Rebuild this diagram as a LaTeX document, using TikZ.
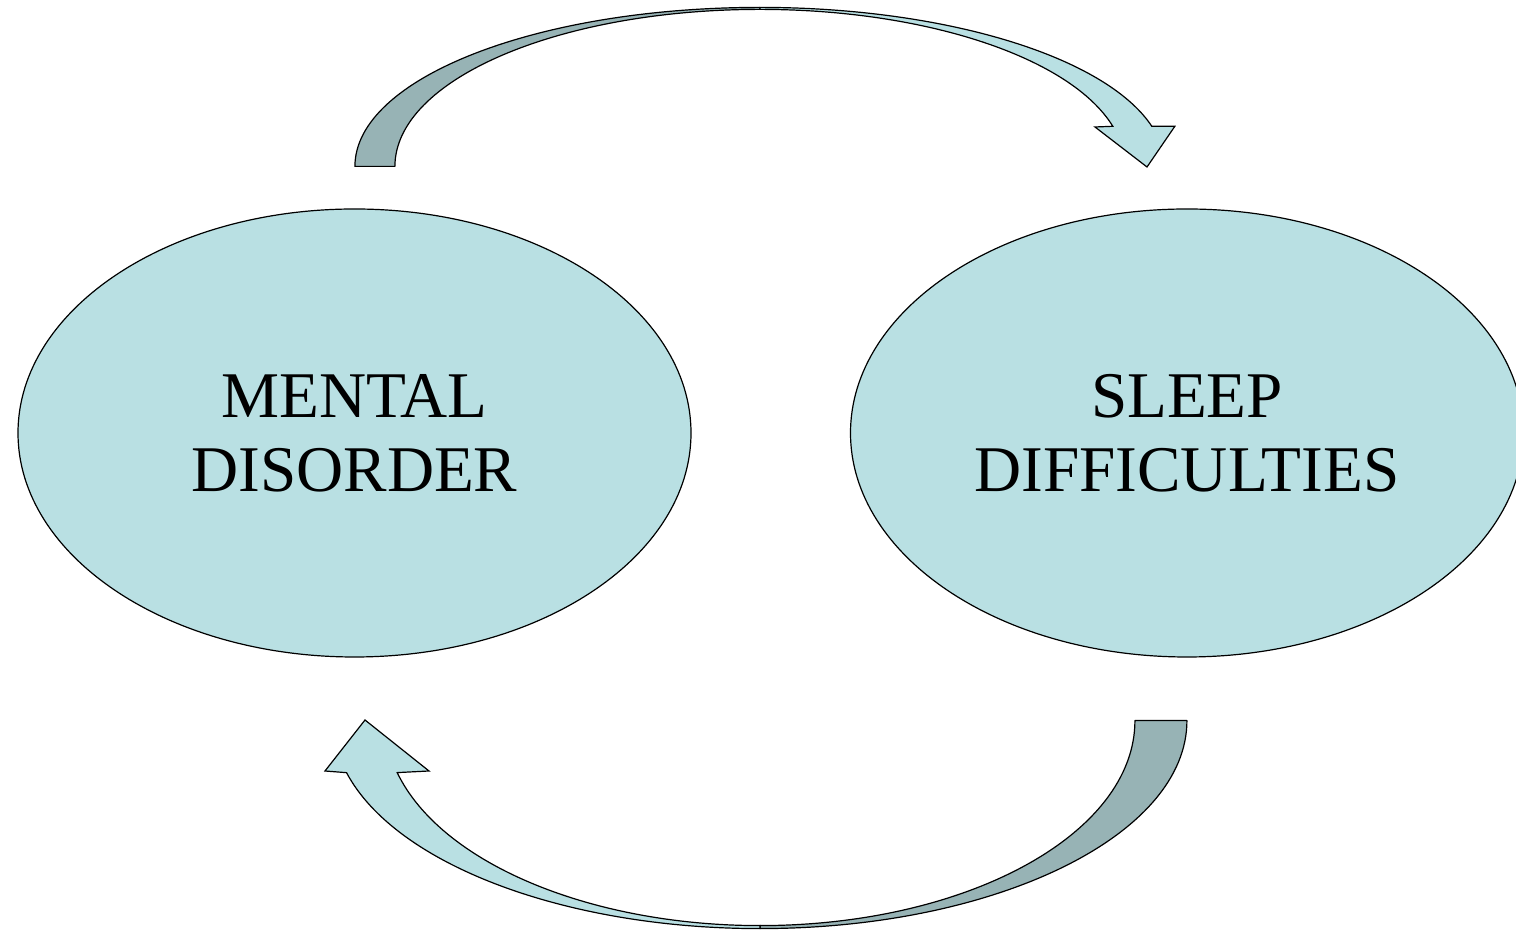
\documentclass[tikz,border=0pt]{standalone}
\usepackage{fontspec}
\setmainfont{Liberation Serif}
\usetikzlibrary{calc,shapes.geometric}
\definecolor{LoopCyan}{HTML}{B9E0E3}
\definecolor{LoopShade}{HTML}{97B3B5}

\begin{document}
\begin{tikzpicture}[
  x=0.5pt, y=0.5pt,
  stateblob/.style={ellipse, draw=black, fill=LoopCyan, line width=0.6pt, minimum width=336.5pt, minimum height=224pt, inner sep=0pt, align=center, font=\fontsize{32.6}{37}\selectfont},
  bandback/.style={draw=black, fill=LoopShade, line width=0.6pt, line join=round},
  bandfront/.style={draw=black, fill=LoopCyan, line width=0.6pt, line join=miter}
]
\useasboundingbox (0,0) rectangle (1516,931);
\node[stateblob] (mental) at (354.5,498) {MENTAL\\DISORDER};
\node[stateblob] (sleep) at (1187,498) {SLEEP\\DIFFICULTIES};
% curved block arrow on top: mental -> sleep
\coordinate (topc) at ($(mental.north)!0.487!(sleep.north)+(0,42)$);
\draw[bandback] (topc) ++(180:405 and 159) arc[start angle=180, end angle=90, x radius=405, y radius=159] -- ++(0,-2) arc[start angle=90, end angle=180, x radius=365, y radius=157] -- cycle;
\draw[bandfront] (topc) ++(90:405 and 159) arc[start angle=90, end angle=14.6, x radius=405, y radius=159] -- ++(23,0) coordinate (tophr) -- (1147,764) coordinate (toptip) -- (1095,804) coordinate (tophl) -- ($(topc)+(14.8:365 and 157)$) arc[start angle=14.8, end angle=90, x radius=365, y radius=157] -- cycle;
% curved block arrow below: sleep -> mental
\coordinate (botc) at ($(mental.south)!0.487!(sleep.south)+(0,-63)$);
\draw[bandback] (botc) ++(0:427 and 208) arc[start angle=0, end angle=-90, x radius=427, y radius=208] -- ++(0,3) arc[start angle=-90, end angle=0, x radius=375, y radius=205] -- cycle;
\draw[bandfront] (botc) ++(-90:427 and 208) arc[start angle=270, end angle=194.5, x radius=427, y radius=208] -- (325,160) coordinate (bothl) -- (365,211) coordinate (bottip) -- (429,160) coordinate (bothr) -- ($(botc)+(194.7:375 and 205)$) arc[start angle=194.7, end angle=270, x radius=375, y radius=205] -- cycle;
\end{tikzpicture}
\end{document}
